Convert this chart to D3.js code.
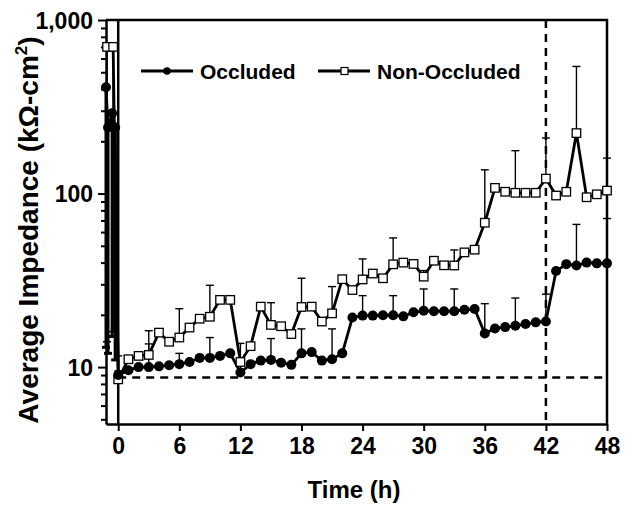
<!DOCTYPE html>
<html>
<head>
<meta charset="utf-8">
<script src="https://cdn.jsdelivr.net/npm/d3@7"></script>
<style>
  html, body { margin: 0; padding: 0; background: #fff; }
  svg text { font-family: "Liberation Sans", Arial, sans-serif; font-weight: bold; fill: #000; }
</style>
</head>
<body>
<svg id="chart" width="630" height="507"></svg>
<script>
// ---------- data ----------
const hours = [0,1,2,3,4,5,6,7,8,9,10,11,12,13,14,15,16,17,18,19,20,21,22,23,24,
  25,26,27,28,29,30,31,32,33,34,35,36,37,38,39,40,41,42,43,44,45,46,47,48];
const occluded = [9.0,9.6,10.0,10.0,10.1,10.25,10.4,10.7,11.3,11.3,11.6,12.0,
  9.3,10.4,10.9,11.0,10.6,10.3,12.0,12.2,10.9,11.1,12.0,
  19.3,19.8,19.8,19.9,19.9,19.6,20.7,21.1,21.0,21.0,21.0,21.4,21.6,
  15.6,16.7,17.0,17.3,17.7,18.1,18.3,35.8,39.2,38.5,40.0,39.6,39.6];
const nonOccluded = [8.5,11.1,11.6,11.75,15.8,14.0,14.8,16.9,19.0,19.5,24.4,24.4,
  10.7,13.2,22.3,17.5,17.2,15.5,22.2,22.3,18.3,20.4,32.1,27.8,
  32.0,34.6,32.5,39.1,40.0,39.3,33.2,41.0,38.6,38.5,45.8,47.5,
  67.9,107.8,102.4,101,101,101,121.9,97.4,102.4,223,95.2,99,104];
// pre-exposure (before t = 0)
const occPreTimes = [-1.2, -1.0, -0.6, -0.3];
const occPreValues = [410, 240, 290, 240];
const occPreErrLow = [13, 12, 15, 11];
const nonPreTimes = [-1.1, -0.5];
const nonPreValues = [700, 700];
const nonPreErrLow = [14, 16];
// error bars (upper end value) every 3 h
const errHours = [0,3,6,9,12,15,18,21,24,27,30,33,36,39,42,45,48];
const occErrTop = [9.5,13.6,12.0,14.8,11.0,14.6,16.6,16.6,25.8,25.8,28.2,28.2,23.2,25.0,26.3,66.4,71.8];
const nonErrTop = [11.6,16.2,21.7,29.6,13.7,23.5,32.5,29.1,42.0,55.5,36.0,47.3,137,176.6,209,540,160];
const baselineValue = 8.7;
const markerTime = 42;
const xTicks = [0,6,12,18,24,30,36,42,48];
const yMajor = [10,100,1000];
const yMinor = [5,6,7,8,9,20,30,40,50,60,70,80,90,200,300,400,500,600,700,800,900];
const seriesNames = ["Occluded", "Non-Occluded"];

// ---------- chart ----------
const svg = d3.select("#chart");
const L = 106, R = 607, T = 20, B = 424;
const x = d3.scaleLinear().domain([-1.2, 48]).range([L, R]);
const y = d3.scaleLog().domain([4.7, 1000]).range([B, T]);

const occData = occPreTimes.map((t,i)=>({t, v: occPreValues[i]}))
  .concat(hours.map((h,i)=>({t:h, v: occluded[i]})));
const nonData = nonPreTimes.map((t,i)=>({t, v: nonPreValues[i]}))
  .concat(hours.map((h,i)=>({t:h, v: nonOccluded[i]})));

// reference lines
svg.append("line").attr("x1", x(0)).attr("x2", x(48))
  .attr("y1", y(baselineValue)).attr("y2", y(baselineValue))
  .attr("stroke","#000").attr("stroke-width",2.5).attr("stroke-dasharray","8,6");
svg.append("line").attr("x1", x(markerTime)).attr("x2", x(markerTime))
  .attr("y1", T).attr("y2", B)
  .attr("stroke","#000").attr("stroke-width",2.5).attr("stroke-dasharray","8,6");
svg.append("line").attr("x1", x(0)).attr("x2", x(0)).attr("y1", T).attr("y2", B)
  .attr("stroke","#000").attr("stroke-width",2.5);

// frame
svg.append("path").attr("d", `M${L},${T}H${R}V${B}`).attr("fill","none")
  .attr("stroke","#000").attr("stroke-width",2.5);

// axes
const xAxis = svg.append("g").attr("transform", `translate(0,${B})`)
  .call(d3.axisBottom(x).tickValues(xTicks).tickSize(7).tickSizeOuter(0).tickPadding(7).tickFormat(d3.format("d")));
const yAxis = svg.append("g").attr("transform", `translate(${L},0)`)
  .call(d3.axisLeft(y).tickValues(yMajor).tickSize(8).tickSizeOuter(0).tickPadding(5).tickFormat(d3.format(",")));
const yAxisMinor = svg.append("g").attr("transform", `translate(${L},0)`)
  .call(d3.axisLeft(y).tickValues(yMinor).tickSize(5).tickSizeOuter(0).tickFormat(""));
[xAxis, yAxis, yAxisMinor].forEach(g => {
  g.selectAll("path.domain").attr("stroke","#000").attr("stroke-width",2.5);
  g.selectAll(".tick line").attr("stroke","#000").attr("stroke-width",2);
  g.selectAll("text").style("font-size","23px").attr("fill","#000");
});
yAxisMinor.select("path.domain").remove();
yAxis.selectAll("text").attr("dy","0.36em");

// error bars
function errBars(times, vals, tops, w) {
  const g = svg.append("g").attr("stroke","#000").attr("stroke-width",w);
  times.forEach((t,i)=>{
    const yv = y(vals[i]), yt = y(tops[i]), xc = x(t);
    g.append("line").attr("x1",xc).attr("x2",xc).attr("y1",yv).attr("y2",yt);
    g.append("line").attr("x1",xc-4).attr("x2",xc+4).attr("y1",yt).attr("y2",yt);
  });
}
errBars(errHours, errHours.map(h=>nonOccluded[hours.indexOf(h)]), nonErrTop, 1.4);
errBars(errHours, errHours.map(h=>occluded[hours.indexOf(h)]), occErrTop, 1.4);
errBars(nonPreTimes, nonPreValues, nonPreErrLow, 1.6);
errBars(occPreTimes, occPreValues, occPreErrLow, 3);

// lines
const line = d3.line().x(d=>x(d.t)).y(d=>y(d.v));
svg.append("path").datum(nonData).attr("d", line).attr("fill","none")
  .attr("stroke","#000").attr("stroke-width",2.8);
svg.append("path").datum(occData).attr("d", line).attr("fill","none")
  .attr("stroke","#000").attr("stroke-width",2.8);

// markers
const s = 8.5;
svg.append("g").selectAll("rect").data(nonData).join("rect")
  .attr("x", d=>x(d.t)-s/2).attr("y", d=>y(d.v)-s/2).attr("width", s).attr("height", s)
  .attr("fill","#fff").attr("stroke","#000").attr("stroke-width",1.3);
svg.append("g").selectAll("circle").data(occData).join("circle")
  .attr("cx", d=>x(d.t)).attr("cy", d=>y(d.v)).attr("r", 5).attr("fill","#000");

// legend
const lg = svg.append("g");
lg.append("line").attr("x1",141).attr("x2",193).attr("y1",71).attr("y2",71).attr("stroke","#000").attr("stroke-width",2.8);
lg.append("circle").attr("cx",167).attr("cy",71).attr("r",3.8).attr("fill","#000");
lg.append("text").attr("x",200).attr("y",71).attr("dy","0.36em").style("font-size","21px").text(seriesNames[0]);
lg.append("line").attr("x1",318).attr("x2",370).attr("y1",71).attr("y2",71).attr("stroke","#000").attr("stroke-width",2.8);
lg.append("rect").attr("x",341).attr("y",67.5).attr("width",7).attr("height",7).attr("fill","#fff").attr("stroke","#000").attr("stroke-width",1.2);
lg.append("text").attr("x",377).attr("y",71).attr("dy","0.36em").style("font-size","21px").text(seriesNames[1]);

// axis titles
svg.append("text").attr("x", 354).attr("y", 498).attr("text-anchor","middle")
  .style("font-size","24px").text("Time (h)");
const yt = svg.append("text").attr("transform","translate(38,230) rotate(-90)")
  .attr("text-anchor","middle").style("font-size","28px");
yt.append("tspan").text("Average Impedance (kΩ-cm");
yt.append("tspan").attr("dy","-11").style("font-size","17px").text("2");
yt.append("tspan").attr("dy","11").text(")");
</script>
</body>
</html>
